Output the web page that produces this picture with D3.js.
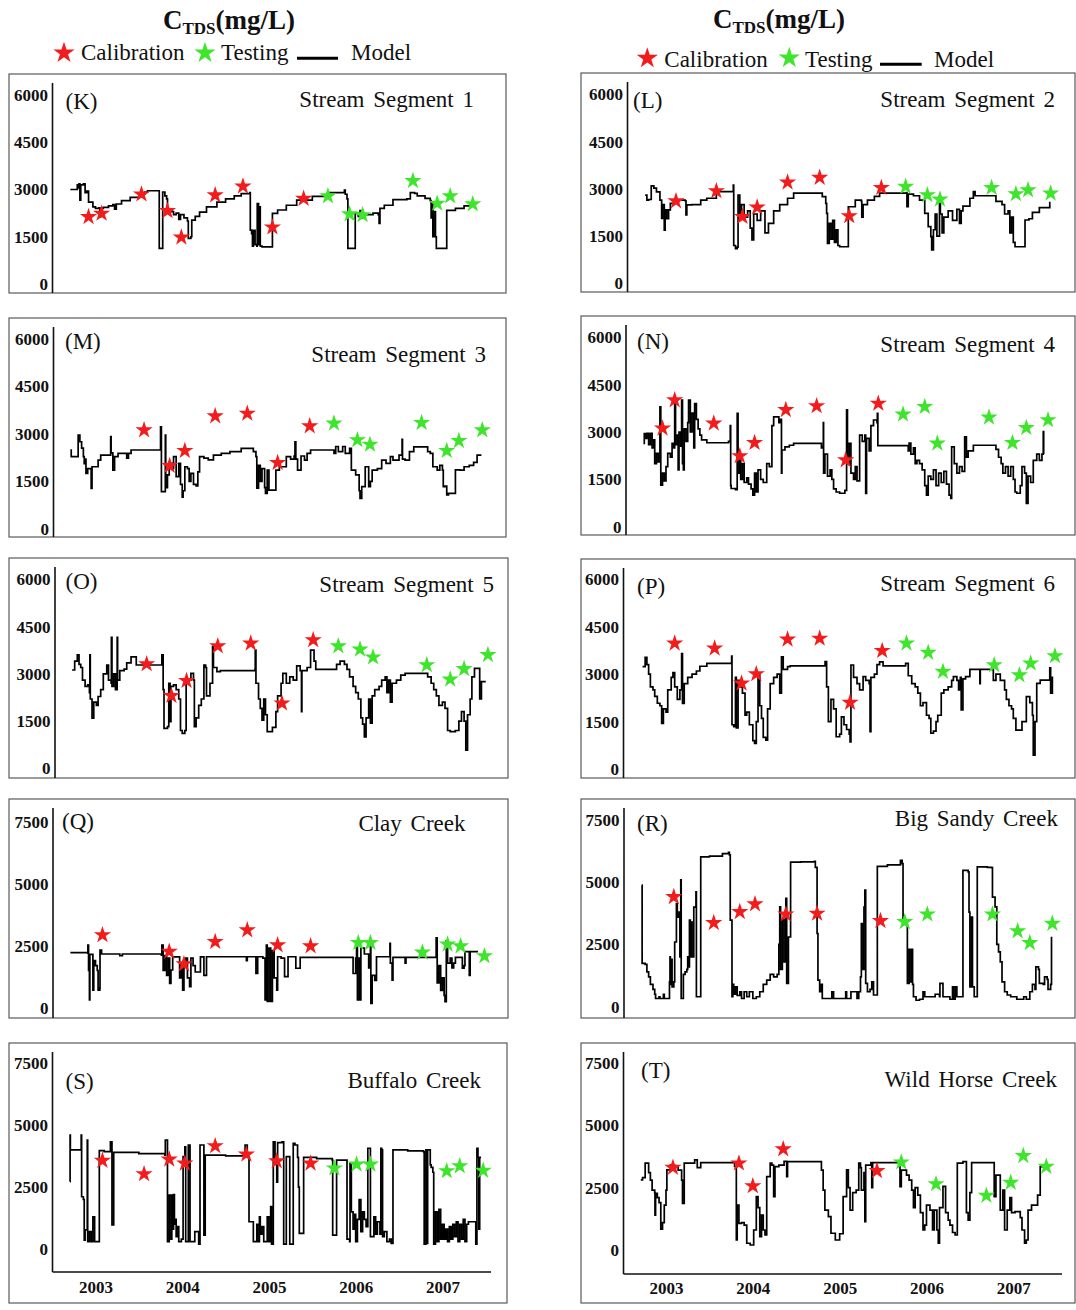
<!DOCTYPE html>
<html><head><meta charset="utf-8">
<script src="https://cdn.jsdelivr.net/npm/d3@7"></script>
<style>
 body{margin:0;background:#fff;}
 svg{display:block;}
 text{font-family:"Liberation Serif","Times New Roman",serif;fill:#111;}
</style></head><body>
<svg id="chart" width="1076" height="1310"></svg>
<script>
// ---- axis tick values ----
const segmentTicks = [0, 1500, 3000, 4500, 6000];
const creekTicks = [0, 2500, 5000, 7500];
const yearTicks = [2003, 2004, 2005, 2006, 2007];

// ---- simulated TDS (mg/L), [decimal year, value] ----
const modelK = [[2002.71,3000],[2002.78,3000],[2002.79,3150],[2002.80,3050],[2002.81,3180],[2002.82,2660],[2002.83,3150],[2002.86,3180],[2002.88,2900],[2002.90,2950],[2002.92,2600],[2002.97,2450],[2003.00,2400],[2003.04,2420],[2003.05,2130],[2003.06,2400],[2003.09,2430],[2003.15,2480],[2003.20,2520],[2003.22,2380],[2003.24,2540],[2003.30,2650],[2003.40,2750],[2003.50,2850],[2003.57,2920],[2003.60,2960],[2003.73,2960],[2003.735,1130],[2003.77,1130],[2003.775,2920],[2003.80,2800],[2003.82,2700],[2003.83,2340],[2003.88,2300],[2003.90,2200],[2003.93,2250],[2003.96,2050],[2003.98,2200],[2004.02,2100],[2004.06,2000],[2004.07,1450],[2004.10,1500],[2004.11,2030],[2004.15,2150],[2004.20,2280],[2004.28,2450],[2004.40,2600],[2004.50,2700],[2004.60,2800],[2004.68,2870],[2004.78,2900],[2004.785,1710],[2004.80,1600],[2004.81,1200],[2004.82,1700],[2004.84,1250],[2004.86,1200],[2004.865,2550],[2004.88,1250],[2004.89,2450],[2004.90,1200],[2004.92,1180],[2005.03,1180],[2005.04,2240],[2005.10,2350],[2005.20,2500],[2005.32,2660],[2005.50,2780],[2005.70,2900],[2005.87,2980],[2005.88,2850],[2005.90,2700],[2005.91,1130],[2005.99,1130],[2005.995,2240],[2006.03,2150],[2006.05,2330],[2006.08,2100],[2006.11,2200],[2006.20,2250],[2006.26,2200],[2006.27,1920],[2006.28,2400],[2006.33,2500],[2006.43,2680],[2006.59,2700],[2006.63,2900],[2006.68,2880],[2006.71,2800],[2006.80,2720],[2006.86,2650],[2006.87,2100],[2006.88,2550],[2006.89,1500],[2006.90,2300],[2006.92,1500],[2006.93,1130],[2007.04,1130],[2007.05,2340],[2007.15,2400],[2007.25,2480],[2007.35,2530]];
const modelL = [[2002.76,2800],[2002.78,2640],[2002.80,2660],[2002.83,3090],[2002.86,3020],[2002.89,2900],[2002.93,2640],[2002.95,2060],[2002.96,2500],[2002.98,1690],[2002.99,2330],[2003.01,2050],[2003.03,2330],[2003.05,2540],[2003.10,2600],[2003.15,2640],[2003.22,2620],[2003.23,2170],[2003.24,2490],[2003.30,2500],[2003.40,2640],[2003.47,2700],[2003.58,2910],[2003.77,2910],[2003.775,3120],[2003.78,1200],[2003.80,1100],[2003.82,1150],[2003.83,2800],[2003.85,2200],[2003.87,2500],[2003.90,2100],[2003.94,2300],[2003.97,1750],[2003.99,1380],[2004.01,2200],[2004.05,2000],[2004.09,2300],[2004.14,1600],[2004.18,1900],[2004.24,2300],[2004.31,2500],[2004.40,2700],[2004.47,2860],[2004.77,2860],[2004.80,2750],[2004.84,2540],[2004.85,2220],[2004.86,1270],[2004.88,1900],[2004.90,1400],[2004.92,2000],[2004.94,1300],[2004.96,1700],[2004.98,1200],[2005.00,1160],[2005.09,1160],[2005.10,2430],[2005.14,2430],[2005.18,2640],[2005.25,2600],[2005.255,2100],[2005.27,2500],[2005.32,2640],[2005.40,2760],[2005.46,2860],[2005.77,2880],[2005.775,2430],[2005.79,2830],[2005.85,2780],[2005.92,2640],[2005.96,2640],[2005.98,2220],[2006.02,1800],[2006.05,1480],[2006.06,1060],[2006.08,1700],[2006.10,2200],[2006.12,1500],[2006.15,2640],[2006.16,2200],[2006.18,1600],[2006.20,2100],[2006.25,2300],[2006.30,2000],[2006.35,2350],[2006.38,1900],[2006.40,2300],[2006.42,2450],[2006.50,2700],[2006.54,2910],[2006.56,2780],[2006.77,2780],[2006.80,2600],[2006.87,2500],[2006.90,2200],[2006.94,2300],[2006.96,1600],[2006.98,2100],[2007.00,1300],[2007.02,1160],[2007.13,1160],[2007.135,2010],[2007.18,2050],[2007.22,2250],[2007.30,2400],[2007.42,2590]];
const modelM = [[2002.71,2490],[2002.72,2280],[2002.78,2280],[2002.80,2960],[2002.82,2750],[2002.84,2550],[2002.86,2280],[2002.87,2060],[2002.88,2200],[2002.89,1750],[2002.91,1900],[2002.95,1275],[2002.96,1960],[2003.00,1960],[2003.03,2170],[2003.06,2330],[2003.17,2330],[2003.175,2910],[2003.18,2400],[2003.20,1855],[2003.21,1855],[2003.22,2280],[2003.26,2380],[2003.35,2380],[2003.36,2230],[2003.38,2380],[2003.41,2490],[2003.745,2490],[2003.75,3225],[2003.76,1170],[2003.80,1170],[2003.805,2960],[2003.81,1300],[2003.83,1700],[2003.85,2065],[2003.88,1900],[2003.90,2280],[2003.93,1650],[2003.96,2065],[2003.98,1400],[2004.00,1000],[2004.01,1200],[2004.03,1960],[2004.06,1900],[2004.08,1500],[2004.10,1750],[2004.13,1400],[2004.16,1350],[2004.18,1800],[2004.20,2280],[2004.25,2230],[2004.30,2180],[2004.36,2330],[2004.45,2380],[2004.55,2440],[2004.68,2540],[2004.78,2540],[2004.82,2440],[2004.85,2280],[2004.86,1280],[2004.88,2000],[2004.90,1500],[2004.92,1900],[2004.95,1300],[2004.96,1120],[2004.98,1850],[2005.00,1220],[2005.07,1220],[2005.08,1850],[2005.12,1960],[2005.20,2280],[2005.25,2200],[2005.29,2300],[2005.30,2750],[2005.31,2200],[2005.33,1855],[2005.36,1855],[2005.37,2300],[2005.41,2170],[2005.44,2380],[2005.48,2490],[2005.72,2490],[2005.75,2380],[2005.77,2600],[2005.80,2440],[2005.85,2600],[2005.88,2380],[2005.93,2540],[2005.95,1855],[2006.00,1700],[2006.04,1200],[2006.05,960],[2006.07,1330],[2006.11,1960],[2006.14,1960],[2006.15,1330],[2006.17,1500],[2006.19,1855],[2006.25,1900],[2006.30,2170],[2006.35,2065],[2006.40,2280],[2006.43,2170],[2006.50,2330],[2006.53,2330],[2006.535,2825],[2006.54,2200],[2006.57,2170],[2006.62,2440],[2006.67,2590],[2006.80,2590],[2006.83,2440],[2006.86,2380],[2006.89,1960],[2006.94,1850],[2006.97,2000],[2007.00,1850],[2007.01,1330],[2007.03,1350],[2007.05,1070],[2007.07,1120],[2007.14,1120],[2007.15,1860],[2007.20,1850],[2007.25,1960],[2007.31,2000],[2007.36,2100],[2007.40,2330],[2007.45,2330]];
const modelN = [[2002.74,2640],[2002.75,2950],[2002.77,2800],[2002.78,2960],[2002.80,2600],[2002.82,2960],[2002.84,2500],[2002.86,2750],[2002.87,2000],[2002.89,2320],[2002.91,2050],[2002.93,3800],[2002.94,1320],[2002.96,1700],[2002.98,1450],[2003.00,1900],[2003.02,2320],[2003.05,2200],[2003.07,2640],[2003.09,2500],[2003.10,4010],[2003.11,2600],[2003.13,2900],[2003.14,1800],[2003.15,3000],[2003.17,2550],[2003.18,4010],[2003.19,2000],[2003.20,1800],[2003.21,3100],[2003.23,2700],[2003.25,3300],[2003.26,4010],[2003.28,3000],[2003.30,3600],[2003.32,2500],[2003.33,3900],[2003.35,3400],[2003.37,3100],[2003.39,2900],[2003.41,2750],[2003.47,2660],[2003.70,2660],[2003.72,2700],[2003.74,3200],[2003.745,1300],[2003.75,1210],[2003.80,1170],[2003.82,3590],[2003.83,1700],[2003.85,2300],[2003.86,1500],[2003.88,2000],[2003.90,1400],[2003.93,1550],[2003.95,1350],[2003.98,1200],[2004.00,1000],[2004.02,1700],[2004.04,1100],[2004.06,1800],[2004.09,1500],[2004.12,1400],[2004.16,2000],[2004.19,1900],[2004.22,3200],[2004.24,3480],[2004.30,3300],[2004.31,3400],[2004.33,1700],[2004.335,2430],[2004.37,2530],[2004.42,2580],[2004.47,2640],[2004.77,2640],[2004.79,2500],[2004.81,2530],[2004.812,3300],[2004.815,1700],[2004.83,2300],[2004.86,1600],[2004.89,1800],[2004.91,1500],[2004.93,1200],[2004.96,1100],[2005.00,1060],[2005.06,1150],[2005.08,3700],[2005.09,2000],[2005.11,2640],[2005.13,1700],[2005.16,1500],[2005.18,1900],[2005.20,1450],[2005.23,2900],[2005.26,2700],[2005.29,2900],[2005.30,1055],[2005.31,2800],[2005.34,2400],[2005.36,3200],[2005.39,3380],[2005.43,3300],[2005.434,3590],[2005.44,2570],[2005.77,2570],[2005.79,2400],[2005.80,2650],[2005.82,2300],[2005.85,2500],[2005.87,2000],[2005.89,2100],[2005.92,2000],[2005.95,1800],[2005.98,1300],[2006.00,1000],[2006.02,1600],[2006.05,1500],[2006.08,1800],[2006.11,1300],[2006.14,1700],[2006.17,1400],[2006.20,1750],[2006.23,1350],[2006.26,1000],[2006.28,900],[2006.29,2530],[2006.32,2000],[2006.35,1700],[2006.38,1900],[2006.41,1750],[2006.44,2850],[2006.46,2200],[2006.48,2400],[2006.54,2580],[2006.77,2580],[2006.80,2450],[2006.83,2200],[2006.86,2000],[2006.88,1700],[2006.91,1900],[2006.94,1600],[2006.97,1900],[2007.00,1500],[2007.02,1100],[2007.04,1060],[2007.08,1300],[2007.10,1900],[2007.13,1700],[2007.15,740],[2007.17,1600],[2007.20,1400],[2007.23,2100],[2007.27,2300],[2007.30,2100],[2007.33,2300],[2007.345,3010],[2007.35,2300]];
const modelO = [[2002.73,3120],[2002.76,3400],[2002.79,3600],[2002.81,3300],[2002.83,3200],[2002.85,2800],[2002.88,2600],[2002.91,2650],[2002.93,2400],[2002.935,3600],[2002.94,2200],[2002.96,1590],[2002.98,2100],[2003.01,2000],[2003.03,2280],[2003.06,2500],[2003.09,3000],[2003.13,3280],[2003.15,2800],[2003.18,2700],[2003.183,4160],[2003.19,2600],[2003.21,3000],[2003.23,2500],[2003.25,4160],[2003.255,2800],[2003.28,3100],[2003.33,3150],[2003.36,3350],[2003.41,3540],[2003.47,3280],[2003.76,3280],[2003.765,3600],[2003.78,2500],[2003.79,1270],[2003.83,1320],[2003.845,2700],[2003.86,1480],[2003.87,2600],[2003.90,2650],[2003.93,2500],[2003.96,2200],[2003.98,1200],[2004.00,1110],[2004.03,1200],[2004.045,2700],[2004.08,2800],[2004.10,3015],[2004.13,2800],[2004.14,1320],[2004.16,1600],[2004.19,2000],[2004.22,2200],[2004.25,3280],[2004.27,3200],[2004.28,2300],[2004.32,2700],[2004.35,3860],[2004.36,3200],[2004.40,3070],[2004.44,3100],[2004.84,3150],[2004.842,3750],[2004.85,2700],[2004.88,2200],[2004.90,1900],[2004.92,1530],[2004.94,2200],[2004.96,1700],[2004.98,1165],[2005.02,1165],[2005.04,1300],[2005.08,1800],[2005.10,2300],[2005.14,2700],[2005.16,3015],[2005.20,2700],[2005.24,2900],[2005.28,2800],[2005.32,3250],[2005.36,3100],[2005.375,1800],[2005.38,3100],[2005.44,3200],[2005.48,3750],[2005.52,3400],[2005.54,3140],[2005.75,3140],[2005.78,3300],[2005.82,3400],[2005.87,3300],[2005.90,3140],[2005.93,2900],[2005.97,2600],[2006.00,2400],[2006.03,2200],[2006.06,1600],[2006.08,1400],[2006.10,1000],[2006.12,1600],[2006.15,2200],[2006.17,1430],[2006.19,2300],[2006.22,2500],[2006.27,2600],[2006.30,2800],[2006.34,2900],[2006.36,2400],[2006.38,2800],[2006.40,2100],[2006.42,2700],[2006.47,2800],[2006.52,2960],[2006.57,3015],[2006.79,3015],[2006.83,2900],[2006.87,2700],[2006.90,2500],[2006.93,2300],[2006.96,2000],[2007.00,2100],[2007.03,1900],[2007.06,1200],[2007.09,1165],[2007.15,1200],[2007.19,1500],[2007.22,1800],[2007.25,1500],[2007.27,580],[2007.29,1700],[2007.32,2200],[2007.34,2900],[2007.37,3170],[2007.42,3170],[2007.43,2200],[2007.45,2750],[2007.50,2750]];
const modelP = [[2002.73,3235],[2002.76,3530],[2002.78,3300],[2002.80,3000],[2002.82,2600],[2002.85,2500],[2002.87,2300],[2002.90,2080],[2002.93,2000],[2002.95,1440],[2002.97,1900],[2003.00,1800],[2003.02,2500],[2003.06,2900],[2003.08,3050],[2003.10,2600],[2003.13,2200],[2003.16,2500],[2003.18,3650],[2003.19,2075],[2003.21,2700],[2003.25,2900],[2003.30,3000],[2003.35,3100],[2003.39,3250],[2003.47,3340],[2003.74,3340],[2003.756,3570],[2003.76,1400],[2003.78,1340],[2003.80,2900],[2003.81,1300],[2003.83,2800],[2003.85,2600],[2003.88,2400],[2003.91,1700],[2003.93,1800],[2003.96,1400],[2004.00,900],[2004.02,810],[2004.04,1500],[2004.06,3025],[2004.08,2000],[2004.10,1600],[2004.12,1000],[2004.15,915],[2004.17,1900],[2004.20,2700],[2004.24,2900],[2004.28,3000],[2004.31,2400],[2004.33,3550],[2004.35,3150],[2004.40,3235],[2004.43,3260],[2004.83,3260],[2004.832,3400],[2004.85,2600],[2004.87,1500],[2004.90,2200],[2004.93,1900],[2004.96,1020],[2005.00,1100],[2005.02,1650],[2005.05,1400],[2005.08,1250],[2005.11,1100],[2005.12,860],[2005.13,3290],[2005.16,2900],[2005.20,2700],[2005.23,2500],[2005.27,2920],[2005.30,2800],[2005.34,2700],[2005.35,1180],[2005.36,2900],[2005.40,3000],[2005.43,3300],[2005.46,3390],[2005.50,3260],[2005.73,3260],[2005.76,3340],[2005.79,2950],[2005.83,2700],[2005.87,2600],[2005.90,2400],[2005.93,2000],[2005.96,2100],[2006.00,1700],[2006.03,1600],[2006.05,1130],[2006.08,1200],[2006.11,1500],[2006.13,1700],[2006.17,2400],[2006.20,2500],[2006.25,2600],[2006.29,2800],[2006.31,2920],[2006.35,2800],[2006.37,2500],[2006.39,2900],[2006.40,1870],[2006.42,2850],[2006.45,2920],[2006.50,3150],[2006.61,3150],[2006.615,2700],[2006.62,3150],[2006.76,3150],[2006.77,2800],[2006.80,3000],[2006.85,2800],[2006.90,2500],[2006.92,2200],[2006.95,2000],[2006.98,1900],[2007.00,1600],[2007.03,1230],[2007.08,1230],[2007.10,1500],[2007.15,2290],[2007.19,2100],[2007.22,1700],[2007.23,440],[2007.25,1500],[2007.27,2710],[2007.31,2810],[2007.40,2810],[2007.42,3200],[2007.43,2400],[2007.45,2900],[2007.46,2900]];
const modelQ = [[2002.71,2220],[2002.91,2200],[2002.912,2525],[2002.92,1500],[2002.93,310],[2002.935,2150],[2002.96,2150],[2002.97,710],[2002.98,1900],[2003.00,1700],[2003.02,1500],[2003.03,710],[2003.05,800],[2003.052,2325],[2003.07,2165],[2003.25,2165],[2003.28,2100],[2003.31,2165],[2003.76,2120],[2003.765,2525],[2003.78,1500],[2003.80,2100],[2003.82,1300],[2003.84,2000],[2003.855,980],[2003.87,1520],[2003.89,2050],[2003.96,2050],[2003.97,1200],[2003.99,1800],[2004.005,710],[2004.02,1800],[2004.04,2000],[2004.06,1200],[2004.085,850],[2004.10,2000],[2004.125,1700],[2004.15,1440],[2004.20,1440],[2004.21,2050],[2004.25,1300],[2004.28,2055],[2004.73,2055],[2004.74,1900],[2004.75,2055],[2004.84,2055],[2004.85,1380],[2004.87,2055],[2004.93,2000],[2004.955,310],[2004.97,2525],[2004.98,250],[2005.00,2400],[2005.02,250],[2005.04,2300],[2005.06,1200],[2005.09,710],[2005.10,2055],[2005.14,2000],[2005.18,1250],[2005.21,1250],[2005.22,2055],[2005.30,2055],[2005.31,1590],[2005.35,1590],[2005.36,2030],[2005.95,2030],[2005.97,1380],[2006.00,2000],[2006.01,2525],[2006.02,310],[2006.04,2000],[2006.05,310],[2006.06,2400],[2006.10,2165],[2006.15,1600],[2006.17,2500],[2006.175,175],[2006.19,1300],[2006.22,1100],[2006.24,2055],[2006.39,2055],[2006.395,2595],[2006.40,1800],[2006.42,1115],[2006.43,2030],[2006.56,2030],[2006.57,1800],[2006.58,2030],[2006.92,2030],[2006.928,2820],[2006.94,1000],[2006.96,1700],[2006.98,700],[2007.00,1200],[2007.02,500],[2007.03,240],[2007.045,2700],[2007.06,1800],[2007.09,2000],[2007.11,1600],[2007.13,1800],[2007.15,2030],[2007.22,2030],[2007.23,1590],[2007.25,1700],[2007.26,2260],[2007.30,2260],[2007.31,1300],[2007.32,2260],[2007.41,2260]];
const modelR = [[2002.72,4880],[2002.725,1740],[2002.76,1700],[2002.78,1400],[2002.80,1200],[2002.82,900],[2002.85,700],[2002.87,500],[2002.88,330],[2002.91,330],[2002.92,400],[2002.93,330],[2002.97,500],[2002.98,330],[2003.02,330],[2003.04,1000],[2003.046,2005],[2003.05,900],[2003.06,1900],[2003.07,800],[2003.09,1000],[2003.10,2600],[2003.12,4145],[2003.13,3600],[2003.15,3800],[2003.16,2000],[2003.17,5100],[2003.175,330],[2003.19,330],[2003.20,1300],[2003.22,1400],[2003.24,1500],[2003.25,2000],[2003.26,1600],[2003.27,3475],[2003.28,2000],[2003.29,3400],[2003.30,2000],[2003.32,4000],[2003.345,4610],[2003.35,400],[2003.39,400],[2003.40,6015],[2003.50,6050],[2003.65,6150],[2003.72,6200],[2003.73,6100],[2003.74,3475],[2003.76,400],[2003.77,900],[2003.78,500],[2003.80,800],[2003.82,450],[2003.85,600],[2003.87,330],[2003.90,600],[2003.93,400],[2003.96,600],[2004.00,330],[2004.04,400],[2004.08,600],[2004.12,900],[2004.16,1070],[2004.20,1300],[2004.24,1200],[2004.28,1300],[2004.30,2500],[2004.31,4010],[2004.32,1500],[2004.34,3500],[2004.36,1800],[2004.38,4350],[2004.39,940],[2004.41,2800],[2004.43,2800],[2004.435,5810],[2004.55,5820],[2004.71,5840],[2004.72,5600],[2004.74,2940],[2004.75,1070],[2004.77,600],[2004.79,900],[2004.80,330],[2004.90,330],[2004.91,600],[2004.93,330],[2005.06,330],[2005.07,600],[2005.08,330],[2005.12,330],[2005.13,600],[2005.20,330],[2005.22,600],[2005.24,1200],[2005.25,3340],[2005.27,1500],[2005.28,4000],[2005.29,4680],[2005.30,940],[2005.32,600],[2005.35,700],[2005.37,1000],[2005.39,470],[2005.43,470],[2005.434,5640],[2005.55,5700],[2005.70,5880],[2005.72,5750],[2005.73,3340],[2005.76,3300],[2005.78,940],[2005.80,2300],[2005.81,1000],[2005.83,2300],[2005.84,900],[2005.85,400],[2005.88,260],[2005.92,300],[2005.96,600],[2005.98,400],[2006.05,400],[2006.10,500],[2006.15,400],[2006.155,940],[2006.19,400],[2006.24,400],[2006.27,300],[2006.30,800],[2006.31,300],[2006.33,800],[2006.35,400],[2006.40,400],[2006.42,5480],[2006.48,5415],[2006.49,3800],[2006.50,800],[2006.52,3600],[2006.53,800],[2006.55,400],[2006.57,400],[2006.585,5615],[2006.70,5600],[2006.75,5590],[2006.76,4400],[2006.79,4010],[2006.81,2500],[2006.83,2200],[2006.85,1800],[2006.87,1000],[2006.90,600],[2006.93,470],[2006.97,400],[2007.00,400],[2007.04,300],[2007.08,300],[2007.12,400],[2007.15,300],[2007.19,600],[2007.22,900],[2007.25,700],[2007.26,1600],[2007.29,1500],[2007.30,935],[2007.33,935],[2007.345,900],[2007.36,1200],[2007.39,1100],[2007.40,700],[2007.43,900],[2007.44,2810]];
const modelS = [[2002.706,2720],[2002.707,4600],[2002.71,4000],[2002.83,4000],[2002.835,4600],[2002.84,2110],[2002.86,2000],[2002.87,360],[2002.88,770],[2002.90,770],[2002.905,4400],[2002.91,300],[2002.93,700],[2002.95,300],[2002.97,1300],[2002.99,300],[2003.03,300],[2003.044,3970],[2003.10,3930],[2003.17,3930],[2003.172,4330],[2003.19,4330],[2003.19,970],[2003.20,970],[2003.21,3900],[2003.50,3850],[2003.80,3795],[2003.805,4400],[2003.83,300],[2003.84,300],[2003.85,2180],[2003.865,2180],[2003.87,400],[2003.88,2180],[2003.89,800],[2003.90,2200],[2003.91,1000],[2003.92,1200],[2003.93,500],[2003.95,900],[2003.96,300],[2003.99,400],[2004.01,3730],[2004.03,4130],[2004.04,300],[2004.06,300],[2004.07,4200],[2004.08,4200],[2004.09,300],[2004.14,300],[2004.145,700],[2004.18,700],[2004.19,200],[2004.20,200],[2004.205,4200],[2004.24,4200],[2004.25,560],[2004.26,560],[2004.265,3790],[2004.50,3760],[2004.72,3730],[2004.725,4200],[2004.74,4200],[2004.75,3730],[2004.77,1100],[2004.80,1100],[2004.82,300],[2004.84,300],[2004.86,1000],[2004.87,300],[2004.89,1300],[2004.90,600],[2004.92,900],[2004.94,300],[2004.97,300],[2004.98,1300],[2005.00,300],[2005.02,1710],[2005.03,200],[2005.04,200],[2005.05,4330],[2005.07,3500],[2005.09,2700],[2005.10,4300],[2005.15,4330],[2005.16,4330],[2005.17,200],[2005.19,200],[2005.20,3730],[2005.23,3730],[2005.24,200],[2005.26,200],[2005.28,4270],[2005.30,4200],[2005.33,3700],[2005.34,2500],[2005.35,630],[2005.39,630],[2005.40,3700],[2005.55,3650],[2005.73,3590],[2005.735,560],[2005.77,560],[2005.78,3590],[2005.89,3590],[2005.90,400],[2005.93,300],[2005.935,3460],[2005.95,1500],[2005.97,800],[2005.99,1400],[2006.00,300],[2006.02,1200],[2006.04,2000],[2006.06,700],[2006.08,1500],[2006.10,1200],[2006.12,900],[2006.14,4070],[2006.16,4070],[2006.17,500],[2006.19,500],[2006.21,1300],[2006.23,600],[2006.25,1100],[2006.28,600],[2006.29,4070],[2006.30,4000],[2006.31,500],[2006.33,700],[2006.36,300],[2006.39,400],[2006.41,230],[2006.43,4000],[2006.60,3960],[2006.78,3930],[2006.79,200],[2006.80,200],[2006.81,4000],[2006.82,4000],[2006.825,230],[2006.83,4000],[2006.85,4000],[2006.86,3400],[2006.87,3300],[2006.89,3100],[2006.90,200],[2006.92,1500],[2006.94,300],[2006.96,1600],[2006.98,400],[2007.00,1000],[2007.02,400],[2007.04,800],[2007.06,300],[2007.08,900],[2007.10,400],[2007.12,1000],[2007.14,500],[2007.16,1100],[2007.18,300],[2007.20,1000],[2007.22,400],[2007.24,1200],[2007.26,300],[2007.28,1000],[2007.30,1100],[2007.32,1100],[2007.38,1100],[2007.385,200],[2007.39,200],[2007.398,4070],[2007.41,3700],[2007.42,800],[2007.43,3700],[2007.445,3700]];
const modelT = [[2002.71,2810],[2002.73,2900],[2002.76,3475],[2002.78,3475],[2002.80,3100],[2002.82,2800],[2002.84,2400],[2002.87,2300],[2002.873,1400],[2002.88,2270],[2002.90,2100],[2002.92,1900],[2002.94,830],[2002.96,1100],[2002.98,1800],[2003.00,2400],[2003.01,3210],[2003.05,3400],[2003.10,3350],[2003.14,3200],[2003.18,2800],[2003.19,1870],[2003.20,1870],[2003.21,3475],[2003.30,3475],[2003.33,3610],[2003.36,3300],[2003.40,3500],[2003.43,3500],[2003.77,3500],[2003.79,3350],[2003.81,400],[2003.82,1800],[2003.84,1070],[2003.87,1100],[2003.90,1000],[2003.93,270],[2003.97,200],[2004.00,200],[2004.01,800],[2004.04,2140],[2004.06,1700],[2004.08,535],[2004.10,1400],[2004.12,800],[2004.14,600],[2004.16,2940],[2004.20,3475],[2004.22,3400],[2004.24,2140],[2004.255,3340],[2004.30,3400],[2004.33,3400],[2004.36,3550],[2004.39,2940],[2004.40,3540],[2004.75,3540],[2004.79,3200],[2004.81,2400],[2004.83,1600],[2004.87,1340],[2004.90,670],[2004.95,400],[2005.00,650],[2005.03,650],[2005.04,2140],[2005.08,3210],[2005.10,2500],[2005.12,1600],[2005.15,2300],[2005.19,2400],[2005.22,3475],[2005.24,3300],[2005.25,2400],[2005.28,3100],[2005.29,1140],[2005.30,3400],[2005.36,3500],[2005.37,2500],[2005.38,3500],[2005.66,3500],[2005.69,3400],[2005.695,2540],[2005.71,3200],[2005.77,3000],[2005.80,2800],[2005.83,2400],[2005.85,1700],[2005.87,2500],[2005.90,2200],[2005.93,1500],[2005.96,800],[2005.98,1000],[2006.00,1800],[2006.04,1600],[2006.07,800],[2006.09,1600],[2006.12,800],[2006.136,270],[2006.15,1700],[2006.19,2550],[2006.22,1500],[2006.25,1200],[2006.27,1000],[2006.30,700],[2006.33,600],[2006.355,3475],[2006.42,3540],[2006.45,3540],[2006.46,1500],[2006.48,1200],[2006.50,2300],[2006.52,3500],[2006.77,3500],[2006.78,2140],[2006.80,3000],[2006.84,3000],[2006.85,1600],[2006.88,2400],[2006.90,800],[2006.93,1600],[2006.96,2100],[2006.98,1500],[2007.02,1540],[2007.06,1540],[2007.08,1300],[2007.10,800],[2007.13,270],[2007.15,400],[2007.17,1600],[2007.21,1800],[2007.25,1800],[2007.28,2200],[2007.31,3340],[2007.37,3400]];

// ---- observed TDS, calibration period ----
const calK = [[2002.92,2130],[2003.07,2240],[2003.53,2850],[2003.83,2320],[2003.99,1480],[2004.38,2820],[2004.70,3100],[2005.04,1800],[2005.40,2710]];
const calL = [[2003.115,2610],[2003.58,2930],[2003.88,2115],[2004.05,2410],[2004.40,3205],[2004.77,3355],[2005.11,2135],[2005.48,3035]];
const calM = [[2003.56,3120],[2003.855,1990],[2004.03,2465],[2004.38,3560],[2004.75,3645],[2005.10,2085],[2005.47,3245]];
const calN = [[2002.96,3115],[2003.10,4010],[2003.55,3275],[2003.85,2240],[2004.02,2660],[2004.38,3700],[2004.735,3825],[2005.07,2110],[2005.445,3905]];
const calO = [[2003.59,3310],[2003.875,2305],[2004.05,2780],[2004.41,3880],[2004.79,3965],[2005.15,2065],[2005.51,4075]];
const calP = [[2003.10,3975],[2003.56,3815],[2003.87,2710],[2004.04,3005],[2004.40,4100],[2004.77,4130],[2005.12,2100],[2005.49,3740]];
const calQ = [[2003.08,2930],[2003.85,2260],[2004.02,1760],[2004.38,2660],[2004.75,3130],[2005.10,2525],[2005.48,2485]];
const calR = [[2003.09,4410],[2003.55,3370],[2003.85,3810],[2004.025,4120],[2004.38,3715],[2004.74,3745],[2005.47,3450]];
const calS = [[2003.08,3570],[2003.56,3030],[2003.85,3620],[2004.03,3460],[2004.38,4160],[2004.74,3820],[2005.09,3550],[2005.48,3460]];
const calT = [[2003.08,3300],[2003.84,3475],[2004.00,2565],[2004.35,4040],[2005.43,3170]];

// ---- observed TDS, testing period ----
const testK = [[2005.68,2790],[2005.93,2220],[2006.08,2190],[2006.66,3275],[2006.94,2555],[2007.09,2790],[2007.35,2535]];
const testL = [[2005.76,3070],[2006.01,2805],[2006.155,2665],[2006.75,3035],[2007.03,2835],[2007.17,2960],[2007.43,2855]];
const testM = [[2005.75,3330],[2006.02,2805],[2006.165,2665],[2006.76,3350],[2007.05,2465],[2007.19,2780],[2007.46,3120]];
const testN = [[2005.73,3560],[2005.98,3800],[2006.125,2640],[2006.72,3465],[2006.99,2660],[2007.15,3135],[2007.40,3380]];
const testO = [[2005.80,3880],[2006.05,3775],[2006.20,3525],[2006.82,3280],[2007.09,2825],[2007.25,3155],[2007.525,3600]];
const testP = [[2005.77,3975],[2006.02,3680],[2006.19,3080],[2006.78,3290],[2007.07,2970],[2007.20,3340],[2007.48,3575]];
const testQ = [[2006.03,2620],[2006.17,2620],[2006.77,2230],[2007.06,2555],[2007.21,2485],[2007.485,2085]];
const testR = [[2005.75,3410],[2006.01,3715],[2006.76,3715],[2007.05,3035],[2007.19,2565],[2007.45,3340]];
const testS = [[2005.755,3260],[2006.01,3420],[2006.17,3420],[2007.05,3150],[2007.20,3350],[2007.47,3165]];
const testT = [[2005.71,3515],[2006.11,2645],[2006.69,2180],[2006.97,2700],[2007.115,3770],[2007.38,3340]];

// ---- panel names ----
const panelLetters = ['K','L','M','N','O','P','Q','R','S','T'];
const panelTitles = ['Stream Segment 1','Stream Segment 2','Stream Segment 3','Stream Segment 4','Stream Segment 5','Stream Segment 6','Clay Creek','Big Sandy Creek','Buffalo Creek','Wild Horse Creek'];

// ---- page geometry for each panel ----
const frames = [
  {box:[9,74,506,293],    ax:52.5,  y0:284,    yTop:95,     letter:[65.5,109],  title:[474,107]},
  {box:[581,73,1075,292], ax:627.5, y0:283.3,  yTop:94.3,   letter:[633,108],   title:[1055,107]},
  {box:[9,318,506,537],   ax:53.5,  y0:528.7,  yTop:339,    letter:[65,349],    title:[486,362]},
  {box:[581,316,1075,535],ax:626,   y0:526.7,  yTop:337.3,  letter:[637,349],   title:[1055,351.5]},
  {box:[9,558,508,778],   ax:55,    y0:768.3,  yTop:579.3,  letter:[65.5,589],  title:[494,591.5]},
  {box:[581,559,1075,778],ax:623.5, y0:769,    yTop:579.3,  letter:[637,594],   title:[1055,590.5]},
  {box:[9,799,508,1018],  ax:53,    y0:1007.7, yTop:821.7,  letter:[62,829],    title:[465.5,830.5]},
  {box:[581,799,1075,1018],ax:624,  y0:1006.7, yTop:820,    letter:[637,831],   title:[1058,826]},
  {box:[9,1043,507,1303], ax:52.5,  y0:1249,   yTop:1063.3, letter:[65.5,1089], title:[481,1088], xAxisY:1272, xAxisEnd:491, pad:9},
  {box:[581,1043,1075,1303],ax:623.5,y0:1250,  yTop:1062.7, letter:[641,1078],  title:[1057,1087], xAxisY:1274, xAxisEnd:1062, pad:8}
];

const models = [modelK, modelL, modelM, modelN, modelO, modelP, modelQ, modelR, modelS, modelT];
const cals = [calK, calL, calM, calN, calO, calP, calQ, calR, calS, calT];
const tests = [testK, testL, testM, testN, testO, testP, testQ, testR, testS, testT];

const RED = '#f21c1c', GREEN = '#3fe42c';
const svg = d3.select('#chart');
const star = size => d3.symbol().type(d3.symbolStar).size(size)();

// time scales, one per column
const xCols = [
  d3.scaleLinear().domain([2003, 2007]).range([95.5, 442.4]),
  d3.scaleLinear().domain([2003, 2007]).range([666, 1013.3])
];

panelLetters.forEach((letter, i) => {
  const f = frames[i];
  const x = xCols[i % 2];
  const ticks = i < 6 ? segmentTicks : creekTicks;
  const y = d3.scaleLinear().domain([0, d3.max(ticks)]).range([f.y0, f.yTop]);
  const g = svg.append('g').attr('class', 'panel-' + letter);

  // frame
  g.append('rect')
    .attr('x', f.box[0]).attr('y', f.box[1])
    .attr('width', f.box[2] - f.box[0]).attr('height', f.box[3] - f.box[1])
    .attr('fill', 'none').attr('stroke', '#5a5a5a').attr('stroke-width', 1.2);

  // y axis
  const yAxis = g.append('g').attr('transform', `translate(${f.ax},0)`)
    .call(d3.axisLeft(y).tickValues(ticks).tickSize(0).tickPadding(4.5).tickFormat(d3.format('d')));
  yAxis.select('.domain').remove();
  yAxis.selectAll('text')
    .attr('font-family', '"Liberation Serif","Times New Roman",serif')
    .attr('font-size', 17).attr('font-weight', 'bold').attr('fill', '#1a1a1a');
  g.append('line')
    .attr('x1', f.ax).attr('x2', f.ax)
    .attr('y1', f.box[1] + 9).attr('y2', f.xAxisY || f.box[3])
    .attr('stroke', '#111').attr('stroke-width', 1.6);

  // x axis on the bottom row
  if (f.xAxisY) {
    const xAxis = g.append('g').attr('transform', `translate(0,${f.xAxisY})`)
      .call(d3.axisBottom(x).tickValues(yearTicks).tickSize(0).tickPadding(f.pad).tickFormat(d3.format('d')));
    xAxis.select('.domain').remove();
    xAxis.selectAll('text')
      .attr('font-family', '"Liberation Serif","Times New Roman",serif')
      .attr('font-size', 17).attr('font-weight', 'bold').attr('fill', '#1a1a1a');
    g.append('line')
      .attr('x1', f.ax).attr('x2', f.xAxisEnd)
      .attr('y1', f.xAxisY).attr('y2', f.xAxisY)
      .attr('stroke', '#111').attr('stroke-width', 1.6);
  }

  // simulated series, drawn as a stepped daily record
  const line = d3.line().curve(d3.curveStepAfter).x(d => x(d[0])).y(d => y(d[1]));
  g.append('path').datum(models[i])
    .attr('d', line).attr('fill', 'none')
    .attr('stroke', '#000').attr('stroke-width', 1.7).attr('stroke-linejoin', 'miter');

  // observations
  g.selectAll('.cal').data(cals[i]).join('path')
    .attr('class', 'cal').attr('d', star(92))
    .attr('transform', d => `translate(${x(d[0])},${y(d[1])})`)
    .attr('fill', RED);
  g.selectAll('.test').data(tests[i]).join('path')
    .attr('class', 'test').attr('d', star(92))
    .attr('transform', d => `translate(${x(d[0])},${y(d[1])})`)
    .attr('fill', GREEN);

  // panel labels
  g.append('text').attr('x', f.letter[0]).attr('y', f.letter[1])
    .attr('font-size', 23).text(`(${letter})`);
  g.append('text').attr('x', f.title[0]).attr('y', f.title[1])
    .attr('text-anchor', 'end').attr('font-size', 23).attr('word-spacing', 3)
    .text(panelTitles[i]);
});

// column headings and legends
const headers = [
  {cx: 229, base: 29, legendY: 60, red: [64, 53], redText: 81, green: [205, 53], greenText: 221, line: [297, 338, 58.3], modelText: 351},
  {cx: 779, base: 28, legendY: 66.7, red: [647.3, 58.3], redText: 664.3, green: [789.3, 58], greenText: 805, line: [880, 921.7, 64.3], modelText: 934}
];
headers.forEach(h => {
  const t = svg.append('text').attr('x', h.cx).attr('y', h.base)
    .attr('text-anchor', 'middle').attr('font-weight', 'bold').attr('font-size', 27);
  t.append('tspan').text('C');
  t.append('tspan').attr('font-size', 17).attr('dy', 5).text('TDS');
  t.append('tspan').attr('dy', -5).text('(mg/L)');

  svg.append('path').attr('d', star(140))
    .attr('transform', `translate(${h.red[0]},${h.red[1]})`).attr('fill', RED);
  svg.append('text').attr('x', h.redText).attr('y', h.legendY).attr('font-size', 23).text('Calibration');
  svg.append('path').attr('d', star(140))
    .attr('transform', `translate(${h.green[0]},${h.green[1]})`).attr('fill', GREEN);
  svg.append('text').attr('x', h.greenText).attr('y', h.legendY).attr('font-size', 23).text('Testing');
  svg.append('line').attr('x1', h.line[0]).attr('x2', h.line[1])
    .attr('y1', h.line[2]).attr('y2', h.line[2])
    .attr('stroke', '#000').attr('stroke-width', 3);
  svg.append('text').attr('x', h.modelText).attr('y', h.legendY).attr('font-size', 23).text('Model');
});
</script>
</body></html>
